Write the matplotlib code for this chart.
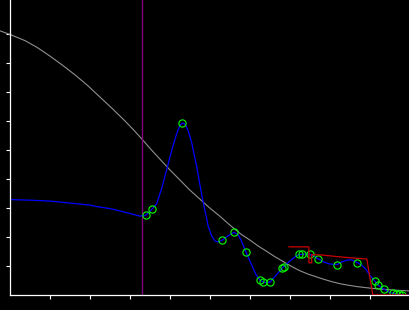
import numpy as np
import matplotlib.pyplot as plt

# Серая кривая (огибающая)
gray_x = [-0.26, 0.00, 0.37, 0.68, 0.99, 1.30, 1.62, 1.93, 2.24, 2.55, 2.87, 3.08,
          3.29, 3.52, 3.74, 3.99, 4.24, 4.49, 4.74, 4.99, 5.24, 5.42, 5.59, 5.79,
          5.99, 6.20, 6.42, 6.62, 6.82, 7.03, 7.24, 7.45, 7.67, 7.87, 8.07, 8.28,
          8.49, 8.70, 8.92, 9.12, 9.32, 9.65, 9.99]
gray_y = [9.11, 8.98, 8.77, 8.53, 8.24, 7.93, 7.59, 7.23, 6.83, 6.43, 6.00, 5.70,
          5.38, 5.02, 4.69, 4.32, 3.97, 3.62, 3.31, 3.00, 2.72, 2.50, 2.30, 2.08,
          1.90, 1.69, 1.50, 1.32, 1.16, 0.99, 0.84, 0.72, 0.62, 0.53, 0.45, 0.38,
          0.33, 0.285, 0.25, 0.22, 0.20, 0.165, 0.14]

# Синяя сглаженная кривая
blue_x = [0.00, 0.49, 0.99, 1.49, 1.99, 2.24, 2.49, 2.74, 2.99, 3.24, 3.39, 3.55,
          3.66, 3.79, 3.91, 4.04, 4.16, 4.21, 4.26, 4.30, 4.34, 4.39, 4.46, 4.54,
          4.66, 4.79, 4.84, 4.89, 4.95, 5.04, 5.12, 5.20, 5.30, 5.44, 5.59, 5.69,
          5.77, 5.90, 6.04, 6.14, 6.24, 6.33, 6.41, 6.50, 6.64, 6.80, 6.84, 6.99,
          7.12, 7.23, 7.31, 7.39, 7.50, 7.59, 7.70, 7.84, 7.99, 8.18, 8.29, 8.42,
          8.54, 8.68, 8.79, 8.89, 8.99, 9.12, 9.20, 9.35, 9.49, 9.58, 9.66, 9.73,
          9.81, 9.99]
blue_y = [3.29, 3.27, 3.24, 3.17, 3.10, 3.03, 2.98, 2.90, 2.81, 2.72, 2.75, 2.97,
          3.14, 3.69, 4.31, 5.00, 5.55, 5.74, 5.87, 5.92, 5.92, 5.85, 5.62, 5.24,
          4.45, 3.45, 3.10, 2.79, 2.38, 2.03, 1.86, 1.83, 1.89, 2.03, 2.16, 2.09,
          1.90, 1.47, 1.03, 0.72, 0.52, 0.45, 0.42, 0.45, 0.67, 0.92, 0.98, 1.17,
          1.31, 1.40, 1.40, 1.42, 1.40, 1.34, 1.25, 1.14, 1.07, 1.05, 1.14, 1.20,
          1.21, 1.12, 1.03, 0.90, 0.69, 0.48, 0.34, 0.20, 0.09, 0.06, 0.03, 0.02,
          0.01, 0.02]

# Точки (зелёные кружки)
pts_x = [3.39, 3.55, 4.30, 5.30, 5.59, 5.90, 6.24, 6.33, 6.50, 6.80, 6.84, 7.23,
         7.31, 7.50, 7.70, 8.18, 8.68, 9.12, 9.20, 9.35, 9.58, 9.66, 9.73, 9.81]
pts_y = [2.75, 2.97, 5.92, 1.89, 2.16, 1.47, 0.52, 0.45, 0.45, 0.92, 0.98, 1.40,
         1.40, 1.40, 1.25, 1.05, 1.12, 0.48, 0.34, 0.20, 0.06, 0.03, 0.02, 0.01]

# Красная ступенчатая линия
red_x = [6.97, 7.47, 7.47, 7.54, 7.54, 7.79, 8.07, 8.29, 8.54, 8.92, 9.07, 9.99]
red_y = [1.66, 1.66, 1.11, 1.11, 1.39, 1.38, 1.34, 1.31, 1.28, 1.24, 0.00, 0.00]

# Вертикальная линия
vline_x = 3.30

fig = plt.figure(figsize=(4.1, 3.1), dpi=100, facecolor='black')
ax = fig.add_axes([10.3 / 410, 15 / 310, 1 - 10.3 / 410, 295 / 310])
ax.set_facecolor('black')

ax.plot(gray_x, gray_y, color='#909090', linewidth=0.8, clip_on=False)
ax.axvline(vline_x, color='#800080', linewidth=1.0)
ax.plot(red_x, red_y, color='#cc0000', linewidth=0.9, zorder=3)
ax.plot(blue_x, blue_y, color='#0000ff', linewidth=0.9)
ax.plot(pts_x, pts_y, linestyle='none', marker='o', markersize=5.2,
        markerfacecolor='none', markeredgecolor='#00ff00', markeredgewidth=0.8)

ax.set_xlim(0, 10)
ax.set_ylim(0, 295 / 29)
ax.set_xticks(np.arange(1, 10))
ax.set_yticks(np.arange(1, 10))
ax.set_xticklabels([])
ax.set_yticklabels([])
ax.tick_params(colors='white', length=3, width=0.8, direction='out')

for side in ['top', 'right']:
    ax.spines[side].set_visible(False)
for side in ['left', 'bottom']:
    ax.spines[side].set_color('white')
    ax.spines[side].set_linewidth(0.9)

fig.savefig('out.png', dpi=100, facecolor='black')
